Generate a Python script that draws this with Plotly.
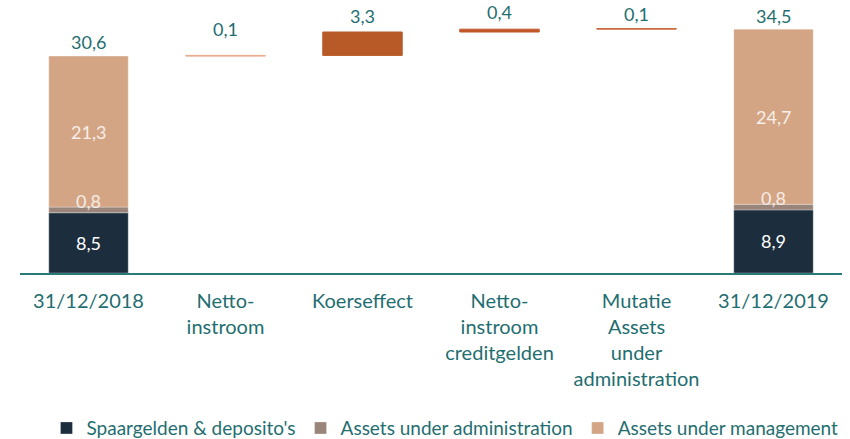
import plotly.graph_objects as go

categories = [
    "31/12/2018",
    "Netto-<br>instroom",
    "Koerseffect",
    "Netto-<br>instroom<br>creditgelden",
    "Mutatie<br>Assets<br>under<br>administration",
    "31/12/2019",
]

# stacked end columns
spaargelden = [8.5, 8.9]
aua = [0.8, 0.8]
aum = [21.3, 24.7]
totals = [30.6, 34.5]

# floating movements
steps = [0.1, 3.3, 0.4, 0.1]
step_colors = ["#e9a98c", "#b85a28", "#c2582a", "#c96a3e"]

TEAL = "#1f6e70"
NAVY = "#1c2e3d"
GREY = "#9a857b"
TAN = "#d4a585"

end_x = [categories[0], categories[-1]]
mid_x = categories[1:-1]

# label offsets (px above the bar top)
total_shift = [14, 12]
step_shift = [26, 16, 17, 14]


def fmt(v):
    return f"{v:.1f}".replace(".", ",")


fig = go.Figure()

base_aua = [s for s in spaargelden]
base_aum = [s + a for s, a in zip(spaargelden, aua)]

for name, vals, base, color in [
    ("Spaargelden & deposito's", spaargelden, [0, 0], NAVY),
    ("Assets under administration", aua, base_aua, GREY),
    ("Assets under management", aum, base_aum, TAN),
]:
    fig.add_trace(
        go.Bar(
            x=end_x,
            y=vals,
            base=base,
            name=name,
            marker_color=color,
            marker_line=dict(color="rgba(255,255,255,0.6)", width=0.5),
            width=0.58,
        )
    )

step_base = []
running = totals[0]
for s in steps:
    step_base.append(running)
    running += s

fig.add_trace(
    go.Bar(
        x=mid_x,
        y=steps,
        base=step_base,
        marker_color=step_colors,
        marker_line=dict(color=step_colors, width=1),
        width=0.58,
        showlegend=False,
        hoverinfo="skip",
    )
)

annotations = []
# totals above end columns
for x, t, sh in zip(end_x, totals, total_shift):
    annotations.append(dict(x=x, y=t, text=fmt(t), yanchor="middle", showarrow=False,
                            yshift=sh, font=dict(color=TEAL, size=18)))
# movements labels
for x, b, s, sh in zip(mid_x, step_base, steps, step_shift):
    annotations.append(dict(x=x, y=b + s, text=fmt(s), yanchor="middle", showarrow=False,
                            yshift=sh, font=dict(color=TEAL, size=18)))
# inside labels
for i, x in enumerate(end_x):
    annotations.append(dict(x=x, y=spaargelden[i] / 2, text=fmt(spaargelden[i]), showarrow=False,
                            font=dict(color="white", size=18)))
    annotations.append(dict(x=x, y=base_aum[i], text=fmt(aua[i]), showarrow=False, yanchor="middle",
                            yshift=6, font=dict(color="#f4ece6", size=18)))
    annotations.append(dict(x=x, y=base_aum[i] + aum[i] / 2, text=fmt(aum[i]), showarrow=False,
                            font=dict(color="#f6eee8", size=18)))

fig.update_layout(
    barmode="overlay",
    width=850,
    height=455,
    margin=dict(l=20, r=8, t=15, b=173),
    paper_bgcolor="white",
    plot_bgcolor="white",
    font=dict(family="Lato", color=TEAL, size=18),
    annotations=annotations,
    xaxis=dict(
        type="category",
        categoryorder="array",
        categoryarray=categories,
        range=[-0.5, 5.5],
        showline=True,
        linecolor="#2a7a7a",
        linewidth=1.5,
        ticks="",
        ticklabelstandoff=9,
        tickfont=dict(size=20, color=TEAL),
        showgrid=False,
        automargin=False,
    ),
    yaxis=dict(
        range=[0, 36.4],
        visible=False,
        showgrid=False,
        zeroline=False,
        automargin=False,
    ),
    legend=dict(
        orientation="h",
        x=0.517,
        xanchor="center",
        y=-0.601,
        yanchor="middle",
        font=dict(size=19, color=TEAL),
        itemwidth=30,
        traceorder="normal",
    ),
)

# drop the default page margin so the figure sits at the window's top-left corner
fig.write_html(
    "out.html",
    config={"displayModeBar": False},
    post_script="document.body.style.margin = '0';",
)
